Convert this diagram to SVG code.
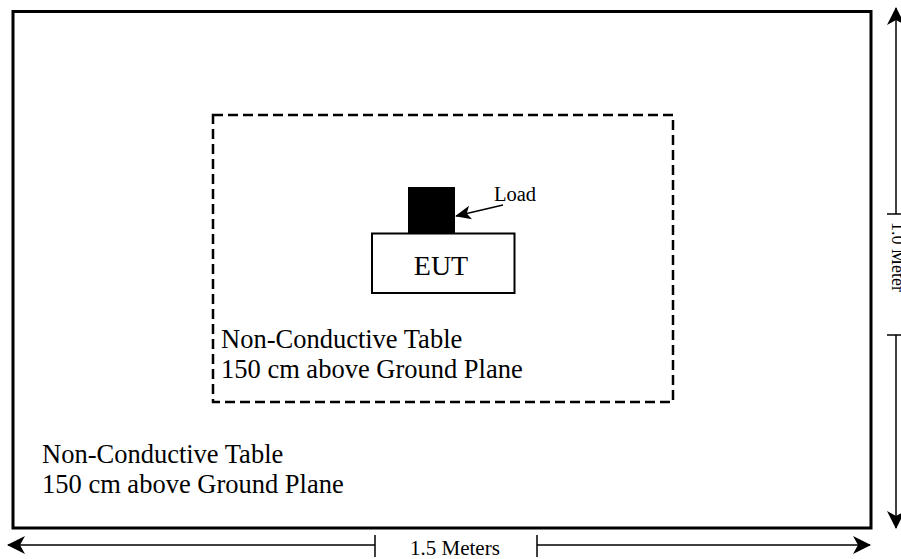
<svg xmlns="http://www.w3.org/2000/svg" width="901" height="559" viewBox="0 0 901 559">
<defs>
<style>
.t{font-family:"Liberation Serif","Times New Roman",serif;fill:#000}
.ln{stroke:#000;stroke-width:1.5;fill:none}
</style>
<marker id="ah" viewBox="0 0 18 18" refX="17" refY="9" markerWidth="18" markerHeight="18" markerUnits="userSpaceOnUse" orient="auto">
<path d="M0,0 L18,9 L0,18 L5,9 Z" fill="#000"/>
</marker>
<marker id="ahs" viewBox="0 0 16 14" refX="15" refY="7" markerWidth="16" markerHeight="14" markerUnits="userSpaceOnUse" orient="auto">
<path d="M0,0 L16,7 L0,14 L4,7 Z" fill="#000"/>
</marker>
</defs>
<rect width="901" height="559" fill="#fff"/>
<g id="ground-plane">
<rect x="13" y="11.5" width="858" height="516.5" fill="none" stroke="#000" stroke-width="3"/>
<text class="t" x="42" y="463" font-size="26.5">Non-Conductive Table</text>
<text class="t" x="42" y="493" font-size="26.5">150 cm above Ground Plane</text>
</g>
<g id="table">
<rect x="213" y="115" width="460" height="287" fill="none" stroke="#000" stroke-width="2.5" stroke-dasharray="10 5"/>
<text class="t" x="221" y="348" font-size="26.5">Non-Conductive Table</text>
<text class="t" x="221" y="378" font-size="26.5">150 cm above Ground Plane</text>
</g>
<g id="load">
<rect x="408" y="187" width="47" height="46" fill="#000"/>
<text class="t" x="494" y="201" font-size="20.5">Load</text>
</g>
<g id="eut">
<rect x="372" y="233.5" width="142.5" height="59.5" fill="#fff" stroke="#000" stroke-width="2"/>
<text class="t" x="441" y="275" font-size="28" text-anchor="middle">EUT</text>
</g>
<g id="connectors">
<line class="ln" x1="503" y1="205" x2="456" y2="216" stroke-width="2" marker-end="url(#ahs)"/>
<line class="ln" x1="375" y1="545" x2="8" y2="545" marker-end="url(#ah)"/>
<line class="ln" x1="375" y1="535" x2="375" y2="557"/>
<line class="ln" x1="537" y1="545" x2="870" y2="545" marker-end="url(#ah)"/>
<line class="ln" x1="537" y1="535" x2="537" y2="557"/>
<line class="ln" x1="896" y1="214" x2="896" y2="8" marker-end="url(#ah)"/>
<line class="ln" x1="887" y1="214" x2="905" y2="214"/>
<line class="ln" x1="896" y1="335" x2="896" y2="528" marker-end="url(#ah)"/>
<line class="ln" x1="887" y1="335" x2="905" y2="335"/>
</g>
<g id="dim-labels">
<text class="t" x="410" y="555" font-size="21">1.5 Meters</text>
<text class="t" font-size="18" transform="translate(892,222) rotate(90)">1.0 Meter</text>
</g>
</svg>
